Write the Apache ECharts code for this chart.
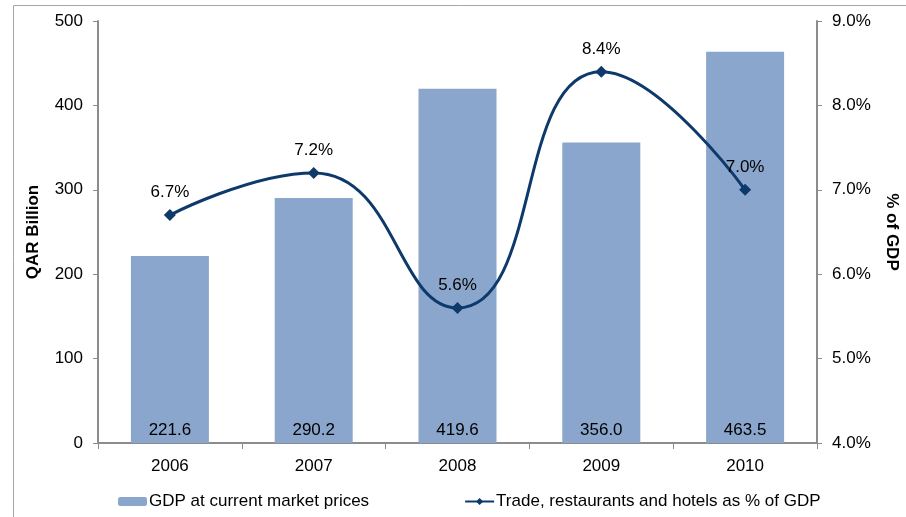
<!DOCTYPE html>
<html>
<head>
<meta charset="utf-8">
<script src="https://cdn.jsdelivr.net/npm/echarts@6/dist/echarts.min.js"></script>
<style>
  html, body { margin: 0; padding: 0; background: #fff; }
  #main { width: 906px; height: 517px; }
</style>
</head>
<body>
<div id="main"></div>
<script>
// data
var years = ['2006', '2007', '2008', '2009', '2010'];
var gdp = [221.6, 290.2, 419.6, 356.0, 463.5];
var tradeShare = [6.7, 7.2, 5.6, 8.4, 7.0];

var font = 'Liberation Sans, Arial, sans-serif';
var axisGray = '#8c8c8c';
var fs = 17;

var myChart = echarts.init(document.getElementById('main'));

var option = {
  animation: false,
  textStyle: { fontFamily: font, color: '#000' },
  graphic: [{
    type: 'rect',
    shape: { x: 13.5, y: 5.5, width: 1000, height: 1000 },
    style: { fill: 'none', stroke: '#a6a6a6', lineWidth: 1 },
    silent: true
  }],
  grid: { left: 98, right: 89, top: 21, bottom: 74, containLabel: false, outerBoundsMode: 'none' },
  legend: {
    left: 113,
    top: 488,
    itemGap: 95,
    itemWidth: 29,
    itemHeight: 9,
    textStyle: { fontSize: fs, color: '#000', fontFamily: font, padding: [0, 0, 0, -3] },
    data: ['GDP at current market prices', 'Trade, restaurants and hotels as % of GDP']
  },
  xAxis: {
    type: 'category',
    data: years,
    axisLine: { lineStyle: { color: axisGray, width: 2 } },
    axisTick: { show: true, length: 6, lineStyle: { color: axisGray } },
    axisLabel: { fontSize: fs, color: '#000', margin: 15, fontFamily: font }
  },
  yAxis: [{
    type: 'value',
    min: 0, max: 500, interval: 100,
    name: 'QAR Billion',
    nameLocation: 'middle',
    nameGap: 56,
    nameTextStyle: { fontSize: fs, fontWeight: 'bold', color: '#000', fontFamily: font },
    axisLine: { show: true, lineStyle: { color: axisGray, width: 2 } },
    axisTick: { show: true, length: 5, lineStyle: { color: axisGray } },
    splitLine: { show: false },
    axisLabel: { fontSize: fs, color: '#000', margin: 15, fontFamily: font }
  }, {
    type: 'value',
    min: 4, max: 9, interval: 1,
    name: '% of GDP',
    nameLocation: 'middle',
    nameGap: 66,
    nameRotate: -90,
    nameTextStyle: { fontSize: fs, fontWeight: 'bold', color: '#000', fontFamily: font },
    axisLine: { show: true, lineStyle: { color: axisGray, width: 2 } },
    axisTick: { show: true, length: 5, lineStyle: { color: axisGray } },
    splitLine: { show: false },
    axisLabel: {
      fontSize: fs, color: '#000', margin: 15, fontFamily: font,
      formatter: function (v) { return v.toFixed(1) + '%'; }
    }
  }],
  series: [{
    name: 'GDP at current market prices',
    type: 'bar',
    data: gdp,
    barWidth: 78,
    itemStyle: { color: '#8aa6cc' },
    label: {
      show: true,
      position: 'insideBottom',
      distance: 4,
      fontSize: fs,
      color: '#000',
      fontFamily: font,
      formatter: function (p) { return p.value.toFixed(1); }
    }
  }, {
    name: 'Trade, restaurants and hotels as % of GDP',
    type: 'line',
    yAxisIndex: 1,
    data: tradeShare,
    smooth: 0.5,
    symbol: 'diamond',
    symbolSize: 12,
    lineStyle: { color: '#0d3a6b', width: 3 },
    itemStyle: { color: '#0d3a6b' },
    label: {
      show: true,
      position: 'top',
      distance: 8,
      fontSize: fs,
      color: '#000',
      fontFamily: font,
      formatter: function (p) { return p.value.toFixed(1) + '%'; }
    }
  }]
};

myChart.setOption(option);
</script>
</body>
</html>
